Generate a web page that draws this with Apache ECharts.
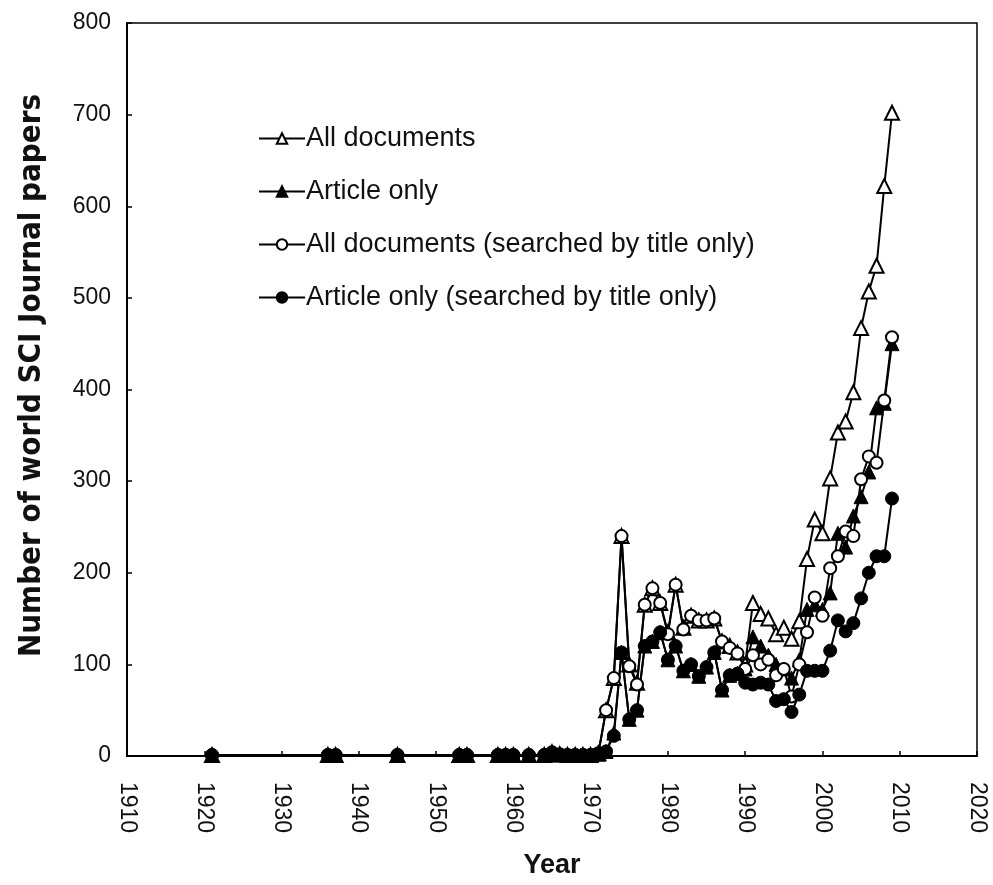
<!DOCTYPE html>
<html>
<head>
<meta charset="utf-8">
<style>
    html, body { margin: 0; padding: 0; background: #fff; }
    #chart { width: 993px; height: 885px; }
</style>
<script src="https://cdn.jsdelivr.net/npm/echarts@6/dist/echarts.min.js"></script>
</head>
<body>
<div id="chart"></div>
<script>
    // years with at least one paper
    var years = [1921, 1936, 1937, 1945, 1953, 1954, 1958, 1959, 1960, 1962, 1964, 1965, 1966, 1967, 1968, 1969, 1970,
        1971, 1972, 1973, 1974, 1975, 1976, 1977, 1978, 1979, 1980,
        1981, 1982, 1983, 1984, 1985, 1986, 1987, 1988, 1989, 1990,
        1991, 1992, 1993, 1994, 1995, 1996, 1997, 1998, 1999, 2000,
        2001, 2002, 2003, 2004, 2005, 2006, 2007, 2008, 2009];

    var allDocs = [1, 1, 1, 1, 1, 1, 1, 1, 1, 1, 1, 4, 2, 1, 1, 1, 1,
        3, 50, 85, 240, 100, 80, 165, 183, 167, 135,
        187, 140, 153, 148, 148, 150, 125, 120, 113, 100,
        167, 155, 150, 133, 140, 128, 147, 215, 258, 243,
        303, 353, 365, 397, 467, 507, 535, 622, 702];

    var articleOnly = [1, 1, 1, 1, 1, 1, 1, 1, 1, 1, 1, 3, 1, 1, 1, 1, 1,
        2, 5, 25, 113, 40, 50, 120, 125, 135, 105,
        120, 93, 100, 87, 97, 113, 72, 88, 90, 95,
        130, 120, 110, 100, 95, 85, 105, 160, 165, 160,
        178, 243, 228, 262, 283, 310, 380, 385, 450];

    var allDocsTitle = [1, 1, 1, 1, 1, 1, 1, 1, 1, 1, 1, 4, 2, 1, 1, 1, 1,
        3, 50, 85, 240, 98, 78, 165, 183, 167, 133,
        187, 138, 153, 148, 148, 150, 125, 118, 112, 95,
        110, 100, 105, 88, 95, 65, 100, 135, 173, 153,
        205, 218, 245, 240, 302, 327, 320, 388, 457];

    var articleTitle = [1, 1, 1, 1, 1, 1, 1, 1, 1, 1, 1, 3, 1, 1, 1, 1, 1,
        2, 5, 22, 113, 40, 50, 120, 125, 135, 105,
        120, 93, 100, 87, 97, 113, 72, 88, 90, 80,
        78, 80, 78, 60, 62, 48, 67, 93, 93, 93,
        115, 148, 136, 145, 172, 200, 218, 218, 281];

    var yTicks = [0, 100, 200, 300, 400, 500, 600, 700, 800];

    function pairs(vals) {
        return years.map(function (y, i) { return [y, vals[i]]; });
    }

    var openStyle = {color: '#fff', borderColor: '#000', borderWidth: 2};
    var fillStyle = {color: '#000', borderColor: '#000', borderWidth: 1};

    function line(name, vals, symbol, size, style) {
        return {
            name: name,
            type: 'line',
            data: pairs(vals),
            symbol: symbol,
            symbolSize: size,
            showAllSymbol: true,
            animation: false,
            lineStyle: {color: '#000', width: 2},
            itemStyle: style,
            z: 2
        };
    }

    var chart = echarts.init(document.getElementById('chart'));
    var option = {
        backgroundColor: '#fff',
        textStyle: {fontFamily: 'Liberation Sans, Arial, sans-serif'},
        grid: {
            left: 127, right: 16, top: 23, bottom: 129,
            show: true, borderColor: '#000', borderWidth: 1.5
        },
        legend: {
            orient: 'vertical',
            left: 253,
            top: 120,
            itemWidth: 46,
            itemHeight: 13,
            itemGap: 26,
            textStyle: {fontSize: 27, lineHeight: 27, color: '#111', padding: [0, 0, 0, -4]},
            data: ['All documents', 'Article only', 'All documents (searched by title only)', 'Article only (searched by title only)']
        },
        xAxis: {
            type: 'value',
            min: 1910, max: 2020, interval: 10,
            name: 'Year',
            nameLocation: 'middle',
            nameGap: 96,
            nameTextStyle: {fontSize: 27, fontWeight: 'bold', color: '#111'},
            splitLine: {show: false},
            axisLine: {lineStyle: {color: '#000', width: 2}},
            axisTick: {inside: true, length: 5, lineStyle: {color: '#000', width: 1.5}},
            axisLabel: {rotate: -90, fontSize: 23, color: '#111', margin: 26,
                formatter: function (v) { return String(v); }}
        },
        yAxis: {
            type: 'value',
            min: yTicks[0], max: yTicks[yTicks.length - 1], interval: 100,
            name: 'Number of world SCI Journal papers',
            nameLocation: 'middle',
            nameGap: 80,
            nameTextStyle: {fontSize: 31, fontWeight: 'bold', color: '#111', padding: [0, 0, 0, 28],
                fontFamily: 'DejaVu Sans Condensed, Liberation Sans, sans-serif'},
            splitLine: {show: false},
            axisLine: {lineStyle: {color: '#000', width: 2}},
            axisTick: {inside: true, length: 5, lineStyle: {color: '#000', width: 1.5}},
            axisLabel: {fontSize: 23, color: '#111', margin: 16}
        },
        series: [
            line('All documents', allDocs, 'triangle', 14, openStyle),
            line('Article only', articleOnly, 'triangle', 14, fillStyle),
            line('All documents (searched by title only)', allDocsTitle, 'circle', 12, openStyle),
            line('Article only (searched by title only)', articleTitle, 'circle', 13, fillStyle)
        ]
    };
    chart.setOption(option);
</script>
</body>
</html>
